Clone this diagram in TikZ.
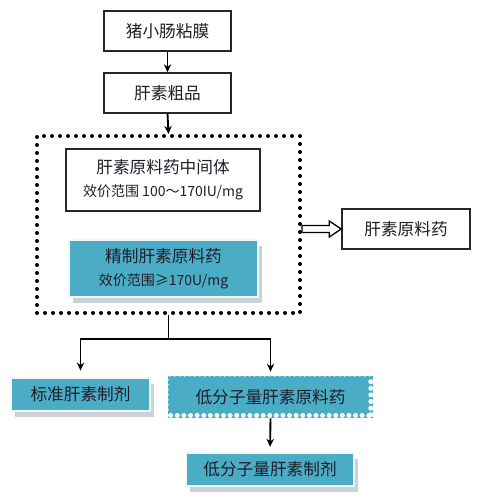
\documentclass[tikz,border=0pt]{standalone}
\usepackage{fontspec}
\setmainfont{Noto Sans CJK SC}
\usetikzlibrary{arrows.meta,calc,shadows}
\definecolor{aqua}{HTML}{4BACC6}
\definecolor{shadowc}{HTML}{C9D1D9}
\definecolor{txt}{HTML}{1E1E28}
\begin{document}
\begin{tikzpicture}[x=0.75pt,y=-0.75pt,
  every node/.style={inner sep=0pt,text=txt,font=\fontsize{12.5}{14}\selectfont},
  wbox/.style={draw=black!85,line width=1.1pt,fill=white},
  bbox/.style={fill=aqua,draw=white!80!shadowc,line width=1.2pt,
    drop shadow={shadow xshift=3pt,shadow yshift=-4.5pt,fill=shadowc,opacity=1}},
  conn/.style={draw=black,line width=1.4pt,-{Stealth[length=6pt,width=5.5pt]}},
  dotbox/.style={draw=black,line width=3pt,line cap=round,dash pattern=on 0pt off 6pt}]
\useasboundingbox (0,0) rectangle (480,502);
\fill[white] (0,0) rectangle (480,502);

\node[wbox,minimum width={127*0.75pt},minimum height={40*0.75pt}] (n1) at (167.5,31) {猪小肠粘膜};
\node[wbox,minimum width={127*0.75pt},minimum height={40*0.75pt}] (n2) at (167.5,93) {肝素粗品\hspace{13pt}};

\node[dotbox,minimum width={263*0.75pt},minimum height={177*0.75pt}] (grp) at (168.5,224.5) {};

\node[wbox,minimum width={194*0.75pt},minimum height={62*0.75pt},align=center] (n3) at (163,180)
  {肝素原料药中间体\\[3pt]{\fontsize{10.5}{12}\selectfont 效价范围 100～170IU/mg}};
\node[bbox,minimum width={189*0.75pt},minimum height={57*0.75pt},align=center] (n4) at (163.5,268.5)
  {精制肝素原料药\\[3pt]{\fontsize{10.5}{12}\selectfont 效价范围≥170U/mg}};

\node[wbox,minimum width={128*0.75pt},minimum height={40*0.75pt}] (n5) at (406,229) {肝素原料药};

\node[bbox,minimum width={139*0.75pt},minimum height={33*0.75pt}] (n6) at (80.5,394.5) {标准肝素制剂};

% stamp-like box
\node[fill=aqua,minimum width={205*0.75pt},minimum height={42*0.75pt}] (n7) at (270.5,397) {低分子量肝素原料药};
\foreach \i in {0,...,30} \fill[white] ($(n7.south west)+(3+6.6*\i,-2.8)$) circle[radius=2.5];
\foreach \i in {0,...,5} \fill[white] ($(n7.north east)+(-2.5,6+6.6*\i)$) circle[radius=2.5];
\foreach \i in {0,...,40} \fill[white] ($(n7.north west)+(2+5*\i,-0.2)$) circle[radius=1.4];
\foreach \i in {0,...,7} \fill[white] ($(n7.north west)+(0,4+5*\i)$) circle[radius=1.2];

\node[bbox,minimum width={168*0.75pt},minimum height={33*0.75pt}] (n8) at (270,469.5) {低分子量肝素制剂};

% connectors
\draw[conn] (n1.south) -- (n2.north);
\draw[conn] (n2.south) -- (grp.north);
\coordinate (j) at ($(grp.south)+(0,24)$);
\draw[line width=1.4pt] (grp.south) -- (j);
\draw[conn,shorten >=5pt] (j) -| (n6.north);
\draw[conn,shorten >=3pt] (j) -| (n7.north);
\draw[conn,shorten >=4pt] (n7.south) -- (n8.north);

% hollow arrow
\coordinate (ha) at (grp.east |- n5.west);
\coordinate (hb) at (n5.west);
\draw[fill=white,line width=1pt,line join=miter]
  ($(ha)+(0,-3.5)$) -- ($(hb)+(-12,-3.5)$) -- ($(hb)+(-12,-8)$) -- (hb)
  -- ($(hb)+(-12,8)$) -- ($(hb)+(-12,3.5)$) -- ($(ha)+(0,3.5)$) -- cycle;
\end{tikzpicture}
\end{document}
